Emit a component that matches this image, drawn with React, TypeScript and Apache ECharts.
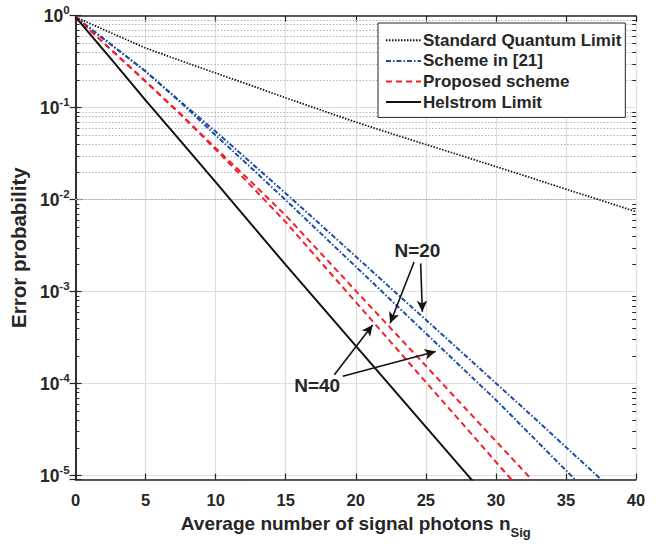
import React, { useEffect, useRef } from 'react';
import * as echarts from 'echarts';

// ---- data ----
const nSig = [0, 2.5, 5, 7.5, 10, 12.5, 15, 17.5, 20, 22.5, 25, 27.5, 30, 32.5, 35, 37.5, 40];

const sqlPe = [0.966, 0.653, 0.445, 0.324, 0.238, 0.175, 0.128, 0.0944, 0.0697, 0.0525, 0.0398, 0.0302, 0.0229, 0.0173, 0.013, 0.00984, 0.00741];

const scheme21N20 = [0.966, 0.49, 0.248, 0.116, 0.055, 0.0254, 0.0117, 0.00532, 0.00241, 0.00109, 4.94e-4, 2.24e-4, 1.01e-4, 4.57e-5, 2.04e-5, 9.12e-6, 4.07e-6];
const scheme21N40 = [0.966, 0.49, 0.248, 0.114, 0.0501, 0.0224, 0.00989, 0.0043, 0.00187, 8.11e-4, 3.52e-4, 1.53e-4, 6.65e-5, 2.75e-5, 1.14e-5, 4.68e-6];

const proposedN20 = [0.966, 0.432, 0.193, 0.0851, 0.0363, 0.0158, 0.00673, 0.00262, 0.00102, 3.99e-4, 1.56e-4, 6.08e-5, 2.37e-5, 9.25e-6, 3.61e-6];
const proposedN40 = [0.966, 0.432, 0.193, 0.0841, 0.0351, 0.0143, 0.00569, 0.00209, 7.71e-4, 2.83e-4, 1.04e-4, 3.84e-5, 1.41e-5, 5.2e-6];

const helstromPe = [0.966, 0.343, 0.12, 0.0432, 0.0155, 0.0055, 0.00195, 7.08e-4, 2.57e-4, 9.33e-5, 3.39e-5, 1.23e-5, 4.47e-6];

const legendNames = ['Standard Quantum Limit', 'Scheme in [21]', 'Proposed scheme', 'Helstrom Limit'];

const xMin = 0;
const xMax = 40;
const xStep = 5;
const yMin = 9.05e-6;
const yMax = 1;
const minorMantissas = [2, 3, 4, 5, 6, 7, 8, 9];
const minorDecades = [-5, -4, -3, -2, -1];

// annotations: [fromX, fromY, toX, toY]
const arrowsN20 = [
  [24.16, 2.1e-3, 22.45, 4.53e-4],
  [24.63, 2.02e-3, 24.75, 6.06e-4],
];
const arrowsN40 = [
  [18.47, 1.25e-4, 21.2, 4.35e-4],
  [19.07, 1.2e-4, 25.7, 2.24e-4],
];
const labelN20 = [24.4, 2.77e-3];
const labelN40 = [17.24, 9.44e-5];

const FONT = '"Liberation Sans", Arial, Helvetica, sans-serif';
const INK = '#262626';
const BLUE = '#1c4ea6';
const RED = '#f0202c';

const toPairs = (ys: number[]) => ys.map((v, i) => [nSig[i], v]);

export default function App() {
  const ref = useRef<HTMLDivElement>(null);
  useEffect(() => {
    if (!ref.current) return;
    const chart = echarts.init(ref.current, undefined, { renderer: 'svg' });

    const minorVals: number[] = [];
    minorDecades.forEach((d) => minorMantissas.forEach((m) => minorVals.push(m * Math.pow(10, d))));

    const lineCommon = {
      type: 'line' as const,
      showSymbol: false,
      symbol: 'none',
      smooth: false,
      silent: true,
      z: 3,
    };

    const option: any = {
      animation: false,
      backgroundColor: '#ffffff',
      grid: { left: 73.3, right: 23, top: 15.7, bottom: 61.7, containLabel: false },
      legend: {
        data: legendNames,
        orient: 'vertical',
        left: 378,
        top: 23,
        padding: [7, 4, 5, 7],
        itemGap: 0,
        itemWidth: 35,
        itemHeight: 20.6,
        backgroundColor: '#ffffff',
        borderColor: INK,
        borderWidth: 1,
        borderRadius: 0,
        selectedMode: false,
        itemStyle: { opacity: 0 },
        textStyle: { fontSize: 17, fontWeight: 'bold', color: INK, fontFamily: FONT, lineHeight: 20.6, padding: [0, 0, 0, -3] },
      },
      xAxis: [
        {
          type: 'value', min: xMin, max: xMax, interval: xStep, position: 'bottom',
          axisLine: { show: true, lineStyle: { color: INK, width: 1.5 } },
          axisTick: { show: true, inside: true, length: 6, lineStyle: { color: INK, width: 1.2 } },
          axisLabel: { fontSize: 16.5, fontWeight: 'bold', color: INK, fontFamily: FONT, margin: 12 },
          splitLine: { show: true, lineStyle: { color: '#dedede', width: 1.2 } },
          name: '{a|Average number of signal photons n}{s|Sig}',
          nameLocation: 'middle',
          nameGap: 27,
          nameTextStyle: {
            rich: {
              a: { fontSize: 19, fontWeight: 'bold', color: INK, fontFamily: FONT, lineHeight: 32 },
              s: { fontSize: 13, fontWeight: 'bold', color: INK, fontFamily: FONT, lineHeight: 10, verticalAlign: 'bottom' },
            },
          },
        },
        {
          type: 'value', min: xMin, max: xMax, interval: xStep, position: 'top',
          axisLine: { show: true, lineStyle: { color: INK, width: 1.5 } },
          axisTick: { show: true, inside: true, length: 6, lineStyle: { color: INK, width: 1.2 } },
          axisLabel: { show: false },
          splitLine: { show: false },
        },
      ],
      yAxis: [
        {
          type: 'log', logBase: 10, min: yMin, max: yMax, position: 'left',
          axisLine: { show: true, lineStyle: { color: INK, width: 1.5 } },
          axisTick: { show: true, inside: true, length: 6, lineStyle: { color: INK, width: 1.2 } },
          axisLabel: {
            margin: 6,
            formatter: (v: number) => {
              const l = Math.log10(v);
              const r = Math.round(l);
              if (Math.abs(l - r) > 0.01) return '';
              return `{b|10}{s|${r}}`;
            },
            rich: {
              b: { fontSize: 17.5, fontWeight: 'bold', color: INK, fontFamily: FONT, lineHeight: 24 },
              s: { fontSize: 11.5, fontWeight: 'bold', color: INK, fontFamily: FONT, lineHeight: 14, verticalAlign: 'top' },
            },
          },
          splitLine: { show: true, lineStyle: { color: '#dedede', width: 1.2 } },
          name: 'Error probability',
          nameLocation: 'middle',
          nameGap: 40,
          nameTextStyle: { fontSize: 20.5, fontWeight: 'bold', color: INK, fontFamily: FONT },
        },
        {
          type: 'log', logBase: 10, min: yMin, max: yMax, position: 'right',
          axisLine: { show: true, lineStyle: { color: INK, width: 1.5 } },
          axisTick: { show: true, inside: true, length: 6, lineStyle: { color: INK, width: 1.2 } },
          axisLabel: { show: false },
          splitLine: { show: false },
        },
      ],
      series: [
        {
          name: 'minor-grid', type: 'line', data: [], silent: true, z: 1,
          markLine: {
            silent: true, z: 1, symbol: ['none', 'none'], label: { show: false },
            lineStyle: { color: '#b4b4b4', type: [1.5, 1.8], width: 1.1 },
            emphasis: { disabled: true },
            data: minorVals.map((v) => ({ yAxis: v })),
          },
        },
        {
          name: 'minor-ticks', type: 'line', data: [], silent: true, z: 4,
          markLine: {
            silent: true, z: 4, symbol: ['none', 'none'], label: { show: false },
            lineStyle: { color: INK, type: 'solid', width: 1 },
            emphasis: { disabled: true },
            data: minorVals.flatMap((v) => [
              [{ coord: [xMin, v] }, { coord: [xMin + 0.27, v] }],
              [{ coord: [xMax - 0.27, v] }, { coord: [xMax, v] }],
            ]),
          },
        },
        { ...lineCommon, name: legendNames[0], data: toPairs(sqlPe), lineStyle: { color: '#111111', width: 1.7, type: [1.5, 1.5] }, itemStyle: { color: '#111111' } },
        { ...lineCommon, name: legendNames[1], data: toPairs(scheme21N20), lineStyle: { color: BLUE, width: 2, type: [5, 2, 1.5, 2] }, itemStyle: { color: BLUE } },
        { ...lineCommon, name: legendNames[1], data: toPairs(scheme21N40), lineStyle: { color: BLUE, width: 2, type: [5, 2, 1.5, 2] }, itemStyle: { color: BLUE } },
        { ...lineCommon, name: legendNames[2], data: toPairs(proposedN20), lineStyle: { color: RED, width: 2, type: [6, 4] }, itemStyle: { color: RED } },
        { ...lineCommon, name: legendNames[2], data: toPairs(proposedN40), lineStyle: { color: RED, width: 2, type: [6, 4] }, itemStyle: { color: RED } },
        { ...lineCommon, name: legendNames[3], data: toPairs(helstromPe), lineStyle: { color: '#111111', width: 2, type: 'solid' }, itemStyle: { color: '#111111' } },
        {
          name: 'annotations', type: 'line', data: [], silent: true, z: 6,
          markLine: {
            silent: true, z: 6, symbol: ['none', 'arrow'], symbolSize: [8, 11], label: { show: false },
            lineStyle: { color: '#111111', type: 'solid', width: 1.6 },
            itemStyle: { color: '#111111' },
            emphasis: { disabled: true },
            data: [...arrowsN20, ...arrowsN40].map((a) => [{ coord: [a[0], a[1]] }, { coord: [a[2], a[3]] }]),
          },
          markPoint: {
            silent: true, z: 6, symbol: 'rect', symbolSize: 1,
            itemStyle: { color: 'rgba(0,0,0,0)' },
            label: { show: true, position: 'inside', fontSize: 19, fontWeight: 'bold', color: INK, fontFamily: FONT, formatter: (p: any) => p.name },
            data: [
              { name: 'N=20', coord: labelN20 },
              { name: 'N=40', coord: labelN40 },
            ],
          },
        },
      ],
    };
    chart.setOption(option);
    return () => chart.dispose();
  }, []);
  return <div ref={ref} style={{ position: 'absolute', left: 0, top: 0, width: 659, height: 544 }} />;
}
